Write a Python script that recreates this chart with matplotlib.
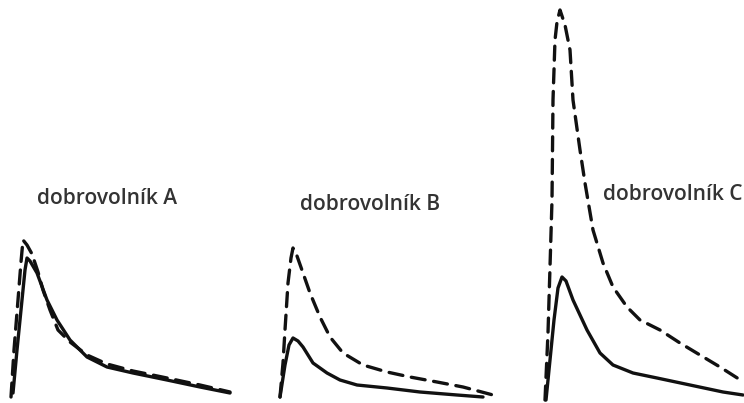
import matplotlib
matplotlib.use("Agg")
import matplotlib.pyplot as plt

W, H = 744, 403

# Panel A (dobrovolník A)
a_solid_x = [13, 17, 21, 25, 27, 30, 37, 47, 57, 70, 87, 107, 133, 167, 200, 230]
a_solid_y = [393, 350, 310, 270, 258, 261, 273, 300, 320, 340, 357, 367, 373, 380, 387, 393]
a_dash_x = [11, 14, 18, 21, 23, 27, 32, 38, 43, 50, 58, 70, 87, 107, 133, 167, 200, 230]
a_dash_y = [397, 350, 300, 262, 240, 245, 254, 272, 290, 310, 330, 342, 355, 364, 371, 378, 385, 392]

# Panel B (dobrovolník B)
b_solid_x = [280, 285, 289, 293, 298, 303, 313, 327, 340, 357, 387, 420, 457, 483]
b_solid_y = [397, 365, 345, 338, 341, 347, 363, 373, 380, 385, 388, 392, 395, 397]
b_dash_x = [280, 283, 285, 288, 291, 293, 297, 303, 310, 320, 330, 343, 363, 387, 410, 437, 463, 493]
b_dash_y = [397, 363, 330, 283, 258, 248, 256, 273, 293, 317, 337, 353, 365, 372, 377, 382, 387, 395]

# Panel C (dobrovolník C)
c_solid_x = [546, 550, 554, 558, 562, 566, 573, 580, 587, 600, 613, 633, 657, 690, 723, 743]
c_solid_y = [400, 360, 320, 288, 277, 281, 300, 315, 330, 353, 365, 373, 378, 385, 392, 395]
c_dash_x = [545, 548, 550, 552, 553, 555, 557, 560, 565, 570, 573, 580, 585, 593, 603, 613, 627, 640, 660, 680, 700, 720, 742]
c_dash_y = [400, 333, 267, 200, 100, 40, 22, 10, 25, 50, 100, 150, 183, 230, 263, 287, 307, 320, 330, 343, 355, 367, 381]

labels = ["dobrovolník A", "dobrovolník B", "dobrovolník C"]
label_x = [107, 370, 673]
label_y = [198, 205, 195]

fig = plt.figure(figsize=(W / 100, H / 100), dpi=100)
ax = fig.add_axes([0, 0, 1, 1])
ax.set_xlim(0, W)
ax.set_ylim(H, 0)
ax.axis("off")

lw = 2.4
for xs, ys in [(a_solid_x, a_solid_y), (b_solid_x, b_solid_y), (c_solid_x, c_solid_y)]:
    ax.plot(xs, ys, color="#111111", lw=lw, solid_capstyle="round", solid_joinstyle="round")
for xs, ys in [(a_dash_x, a_dash_y), (b_dash_x, b_dash_y), (c_dash_x, c_dash_y)]:
    ax.plot(xs, ys, color="#111111", lw=lw, linestyle=(0, (4.2, 2.6)), dash_capstyle="round")

for t, x, y in zip(labels, label_x, label_y):
    ax.text(x, y, t, ha="center", va="center", fontsize=15, color="#333333",
            family="Open Sans", fontweight="semibold")

fig.savefig("out.png", dpi=100, facecolor="white")
